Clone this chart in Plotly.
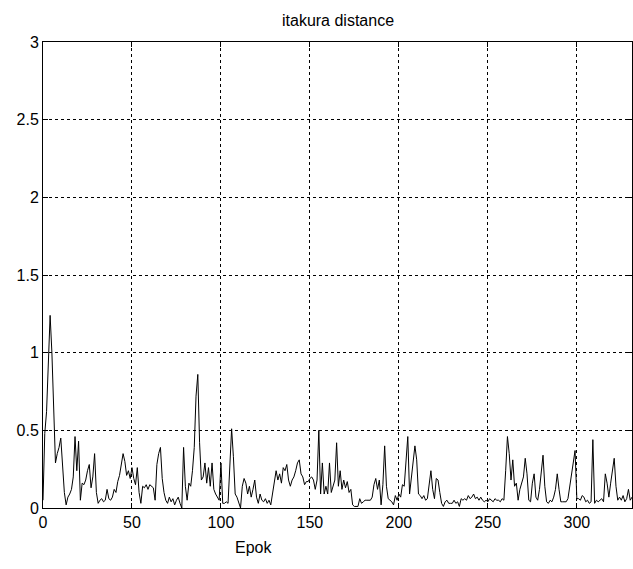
import plotly.graph_objects as go

values = [
    0.05, 0.48, 0.62, 0.95, 1.24, 1.00, 0.70, 0.29, 0.35, 0.39,
    0.45, 0.24, 0.10, 0.02, 0.07, 0.09, 0.12, 0.20, 0.46, 0.24,
    0.43, 0.05, 0.16, 0.15, 0.18, 0.24, 0.28, 0.13, 0.20, 0.35,
    0.10, 0.03, 0.05, 0.06, 0.04, 0.05, 0.12, 0.06, 0.05, 0.07,
    0.12, 0.10, 0.17, 0.21, 0.28, 0.35, 0.30, 0.21, 0.24, 0.19,
    0.26, 0.19, 0.15, 0.26, 0.10, 0.03, 0.14, 0.13, 0.15, 0.12,
    0.15, 0.14, 0.13, 0.05, 0.28, 0.35, 0.39, 0.19, 0.10, 0.05,
    0.03, 0.07, 0.04, 0.06, 0.02, 0.05, 0.07, 0.03, 0.00, 0.39,
    0.14, 0.05, 0.16, 0.14, 0.24, 0.39, 0.72, 0.86, 0.42, 0.18,
    0.20, 0.29, 0.16, 0.26, 0.14, 0.29, 0.12, 0.09, 0.07, 0.05,
    0.29, 0.03, 0.03, 0.04, 0.03, 0.31, 0.51, 0.33, 0.09, 0.07,
    0.03, 0.00, 0.14, 0.19, 0.16, 0.09, 0.14, 0.07, 0.12, 0.18,
    0.07, 0.03, 0.09, 0.05, 0.04, 0.06, 0.03, 0.05, 0.02, 0.09,
    0.16, 0.24, 0.18, 0.22, 0.16, 0.26, 0.24, 0.28, 0.18, 0.14,
    0.18, 0.20, 0.24, 0.29, 0.31, 0.22, 0.20, 0.15, 0.17, 0.17,
    0.19, 0.20, 0.18, 0.12, 0.18, 0.50, 0.09, 0.29, 0.09, 0.14,
    0.09, 0.29, 0.10, 0.14, 0.18, 0.42, 0.14, 0.24, 0.12, 0.18,
    0.13, 0.17, 0.10, 0.12, 0.02, 0.01, 0.01, 0.01, 0.06, 0.03,
    0.04, 0.05, 0.05, 0.05, 0.05, 0.07, 0.15, 0.19, 0.12, 0.18,
    0.02, 0.15, 0.40, 0.14, 0.06, 0.05, 0.04, 0.02, 0.08, 0.05,
    0.09, 0.07, 0.15, 0.14, 0.33, 0.46, 0.09, 0.20, 0.33, 0.40,
    0.31, 0.09, 0.08, 0.06, 0.08, 0.05, 0.06, 0.14, 0.24, 0.12,
    0.06, 0.19, 0.18, 0.10, 0.03, 0.01, 0.04, 0.05, 0.03, 0.03,
    0.03, 0.05, 0.03, 0.04, 0.01, 0.06, 0.05, 0.06, 0.05, 0.08,
    0.06, 0.07, 0.09, 0.06, 0.07, 0.05, 0.07, 0.05, 0.04, 0.05,
    0.04, 0.06, 0.05, 0.04, 0.06, 0.05, 0.05, 0.04, 0.06, 0.05,
    0.24, 0.46, 0.35, 0.18, 0.31, 0.14, 0.16, 0.05, 0.12, 0.16,
    0.20, 0.32, 0.22, 0.05, 0.04, 0.16, 0.22, 0.07, 0.05, 0.12,
    0.24, 0.34, 0.14, 0.04, 0.03, 0.05, 0.04, 0.07, 0.12, 0.22,
    0.12, 0.04, 0.04, 0.04, 0.04, 0.06, 0.14, 0.22, 0.31, 0.37,
    0.06, 0.06, 0.05, 0.08, 0.07, 0.04, 0.05, 0.03, 0.04, 0.44,
    0.03, 0.05, 0.04, 0.05, 0.06, 0.04, 0.22, 0.16, 0.07, 0.16,
    0.24, 0.32, 0.14, 0.05, 0.07, 0.05, 0.08, 0.04, 0.06, 0.12,
    0.05, 0.07,
]
epochs = list(range(len(values)))

x_ticks = [0, 50, 100, 150, 200, 250, 300]
y_ticks = [0, 0.5, 1, 1.5, 2, 2.5, 3]
y_tick_labels = ["0", "0.5", "1", "1.5", "2", "2.5", "3"]

fig = go.Figure()
fig.add_trace(go.Scatter(
    x=epochs, y=values, mode="lines",
    line=dict(color="black", width=1),
    showlegend=False, hoverinfo="skip",
))

FAMILY = "Liberation Sans, Arial, sans-serif"
font = dict(family=FAMILY, size=16, color="black")

axis_common = dict(
    showline=True, linecolor="black", linewidth=1, mirror="ticks",
    showgrid=True, gridcolor="black", gridwidth=1, griddash="3px,3px",
    zeroline=False, ticks="inside", ticklen=5, tickcolor="black",
    tickfont=font,
)

fig.update_xaxes(range=[0, 331], tickvals=x_ticks, **axis_common)
fig.update_yaxes(range=[0, 3], tickvals=y_ticks, ticktext=y_tick_labels, **axis_common)

fig.update_layout(
    width=633, height=569,
    margin=dict(l=43, r=1, t=42, b=61),
    paper_bgcolor="white", plot_bgcolor="white",
    title=dict(text="itakura distance", x=0.534, xanchor="center", y=0.965, yanchor="middle",
               font=dict(family=FAMILY, size=16, color="black")),
    annotations=[dict(text="Epok", xref="paper", yref="paper", x=0.357, y=-0.085,
                      xanchor="center", yanchor="middle", showarrow=False,
                      font=dict(family=FAMILY, size=16, color="black"))],
)

fig.write_html("out.html")
